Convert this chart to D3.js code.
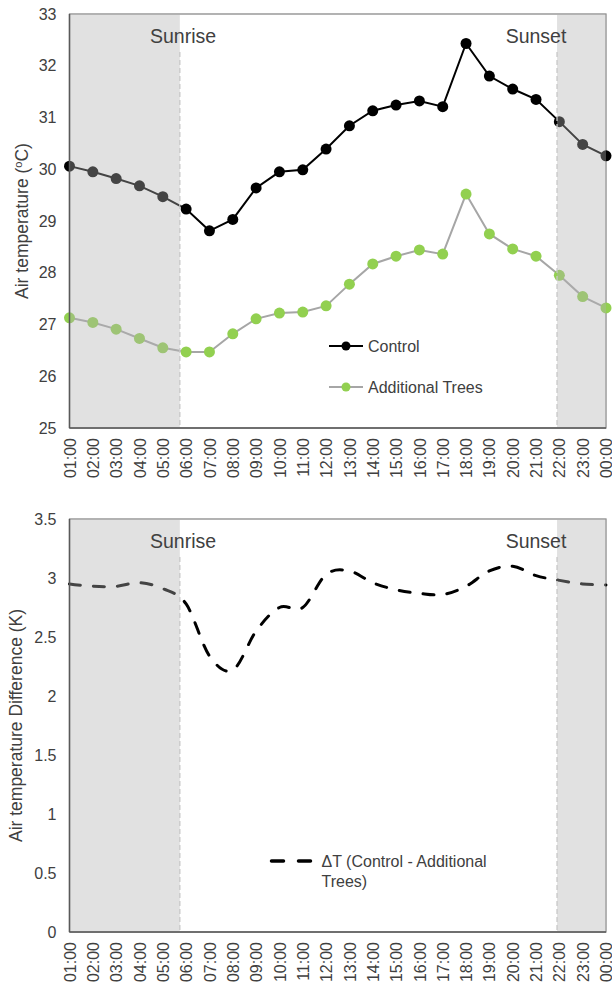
<!DOCTYPE html>
<html>
<head>
<meta charset="utf-8">
<script src="https://cdn.jsdelivr.net/npm/d3@7"></script>
<style>
  html, body { margin: 0; padding: 0; background: #fff; }
  svg text { font-family: "Liberation Sans", Arial, sans-serif; }
</style>
</head>
<body>
<svg id="chart" width="612" height="985"></svg>
<script>
// ---------- DATA ----------
const hours = ["01:00","02:00","03:00","04:00","05:00","06:00","07:00","08:00","09:00","10:00","11:00","12:00",
               "13:00","14:00","15:00","16:00","17:00","18:00","19:00","20:00","21:00","22:00","23:00","00:00"];
const control = [30.06,29.95,29.82,29.68,29.47,29.23,28.81,29.03,29.64,29.95,29.99,30.39,
                 30.84,31.13,31.24,31.32,31.21,32.43,31.80,31.55,31.35,30.92,30.48,30.26];
const additionalTrees = [27.13,27.04,26.91,26.73,26.55,26.47,26.47,26.82,27.11,27.22,27.24,27.36,
                 27.78,28.17,28.32,28.44,28.36,29.52,28.75,28.46,28.32,27.95,27.54,27.32];
const deltaT = [2.95,2.93,2.93,2.96,2.91,2.78,2.34,2.22,2.55,2.75,2.75,3.03,
                3.06,2.96,2.90,2.87,2.86,2.93,3.06,3.10,3.02,2.98,2.95,2.94];
const topTicks = [25,26,27,28,29,30,31,32,33];
const bottomTicks = [0,0.5,1,1.5,2,2.5,3,3.5];
// night shading, in hour-index units (0 = 01:00, 23 = 00:00)
const sunriseIndex = 4.73;
const sunsetIndex = 20.9;
const seriesNames = ["Control","Additional Trees"];
const deltaName = ["ΔT (Control - Additional","Trees)"];

// ---------- LAYOUT ----------
const svg = d3.select("#chart");
const left = 69.5, right = 606;
const panels = [
  {top: 14, bottom: 428, domain: [25,33], ticks: topTicks, titleX: 28,
   title: "top"},
  {top: 519, bottom: 932, domain: [0,3.5], ticks: bottomTicks, titleX: 22,
   title: "bottom"}
];
const textColor = "#404040";

const x = d3.scalePoint().domain(hours).range([left, right]);
const xi = d3.scaleLinear().domain([0, hours.length - 1]).range([left, right]);

function drawPanel(p, drawContent) {
  const g = svg.append("g");
  const y = d3.scaleLinear().domain(p.domain).range([p.bottom, p.top]);

  // plot border
  g.append("rect").attr("x", left).attr("y", p.top)
    .attr("width", right - left).attr("height", p.bottom - p.top)
    .attr("fill", "none").attr("stroke", "#808080").attr("stroke-width", 1.2);

  drawContent(g, y);

  // night shading on top of the lines (semi-transparent)
  const spans = [[0, sunriseIndex], [sunsetIndex, hours.length - 1]];
  g.selectAll("rect.shade").data(spans).enter().append("rect")
    .attr("class", "shade")
    .attr("x", d => xi(d[0])).attr("y", p.top)
    .attr("width", d => xi(d[1]) - xi(d[0])).attr("height", p.bottom - p.top)
    .attr("fill", "rgb(177,177,177)").attr("fill-opacity", 0.384);

  // dashed sunrise / sunset lines
  g.selectAll("line.sun").data([sunriseIndex, sunsetIndex]).enter().append("line")
    .attr("x1", d => xi(d)).attr("x2", d => xi(d))
    .attr("y1", p.top + 38).attr("y2", p.bottom)
    .attr("stroke", "#c8c8c8").attr("stroke-width", 1.3).attr("stroke-dasharray", "5,3");

  // Sunrise / Sunset labels
  g.append("text").attr("x", 183).attr("y", p.top + 29).attr("text-anchor", "middle")
    .attr("font-size", 19.5).attr("fill", textColor).text("Sunrise");
  g.append("text").attr("x", 536).attr("y", p.top + 29).attr("text-anchor", "middle")
    .attr("font-size", 19.5).attr("fill", textColor).text("Sunset");

  // axes lines
  g.append("line").attr("x1", left).attr("x2", left).attr("y1", p.top).attr("y2", p.bottom)
    .attr("stroke", "#595959").attr("stroke-width", 1.5);
  g.append("line").attr("x1", left).attr("x2", right).attr("y1", p.bottom).attr("y2", p.bottom)
    .attr("stroke", "#595959").attr("stroke-width", 1.5);

  // y axis
  const yAxis = d3.axisLeft(y).tickValues(p.ticks).tickSize(0).tickPadding(13)
    .tickFormat(d => d3.format("")(d));
  const ya = g.append("g").attr("transform", `translate(${left},0)`).call(yAxis);
  ya.select(".domain").remove();
  ya.selectAll("text").attr("font-size", 16).attr("fill", textColor)
    .attr("font-family", '"Liberation Sans", Arial, sans-serif');

  // x axis
  const xAxis = d3.axisBottom(x).tickSize(0).tickPadding(0);
  const xa = g.append("g").attr("transform", `translate(0,${p.bottom})`).call(xAxis);
  xa.select(".domain").remove();
  xa.selectAll("text").attr("font-size", 16).attr("fill", textColor)
    .attr("font-family", '"Liberation Sans", Arial, sans-serif')
    .attr("transform", "rotate(-90)")
    .attr("text-anchor", "end").attr("x", -10).attr("y", 0).attr("dy", "0.35em");

  return {g, y};
}

// ---------- TOP PANEL ----------
drawPanel(panels[0], (g, y) => {
  const line = d3.line().x((d, i) => x(hours[i])).y(d => y(d));
  g.append("path").datum(additionalTrees).attr("d", line)
    .attr("fill", "none").attr("stroke", "#a6a6a6").attr("stroke-width", 2);
  g.append("path").datum(control).attr("d", line)
    .attr("fill", "none").attr("stroke", "#000").attr("stroke-width", 2);
  g.selectAll("circle.ctl").data(control).enter().append("circle")
    .attr("cx", (d, i) => x(hours[i])).attr("cy", d => y(d)).attr("r", 5.5).attr("fill", "#000");
  g.selectAll("circle.add").data(additionalTrees).enter().append("circle")
    .attr("cx", (d, i) => x(hours[i])).attr("cy", d => y(d)).attr("r", 5.5).attr("fill", "#92d050");

  // legend
  const lg = [{name: seriesNames[0], line: "#000", dot: "#000", cy: 346},
              {name: seriesNames[1], line: "#a6a6a6", dot: "#92d050", cy: 387}];
  lg.forEach(d => {
    g.append("line").attr("x1", 329).attr("x2", 363).attr("y1", d.cy).attr("y2", d.cy)
      .attr("stroke", d.line).attr("stroke-width", 2);
    g.append("circle").attr("cx", 346).attr("cy", d.cy).attr("r", 4.5).attr("fill", d.dot);
    g.append("text").attr("x", 368).attr("y", d.cy).attr("dy", "0.35em")
      .attr("font-size", 16).attr("fill", textColor).text(d.name);
  });
});

// ---------- BOTTOM PANEL ----------
drawPanel(panels[1], (g, y) => {
  const line = d3.line().curve(d3.curveCardinal.tension(0))
    .x((d, i) => x(hours[i])).y(d => y(d));
  g.append("path").datum(deltaT).attr("d", line)
    .attr("fill", "none").attr("stroke", "#000").attr("stroke-width", 3)
    .attr("stroke-dasharray", "11,13").attr("stroke-linecap", "round");

  g.append("line").attr("x1", 271.5).attr("x2", 311.5).attr("y1", 861).attr("y2", 861)
    .attr("stroke", "#000").attr("stroke-width", 3.5)
    .attr("stroke-dasharray", "12,15").attr("stroke-linecap", "round");
  const t = g.append("text").attr("font-size", 16).attr("fill", textColor);
  deltaName.forEach((s, i) => {
    t.append("tspan").attr("x", 321.5).attr("y", 861 + i * 20.7).attr("dy", "0.35em").text(s);
  });
});

// ---------- AXIS TITLES ----------
svg.append("text")
  .attr("transform", `translate(28,${(panels[0].top + panels[0].bottom) / 2}) rotate(-90)`)
  .attr("text-anchor", "middle").attr("font-size", 17.5).attr("fill", textColor)
  .call(t => {
    t.append("tspan").text("Air temperature (");
    t.append("tspan").attr("font-size", 11).attr("dy", "-0.55em").text("o");
    t.append("tspan").attr("dy", "0.35em").text("C)");
  });
svg.append("text")
  .attr("transform", `translate(22,${(panels[1].top + panels[1].bottom) / 2}) rotate(-90)`)
  .attr("text-anchor", "middle").attr("font-size", 17.5).attr("fill", textColor)
  .text("Air temperature Difference (K)");
</script>
</body>
</html>
